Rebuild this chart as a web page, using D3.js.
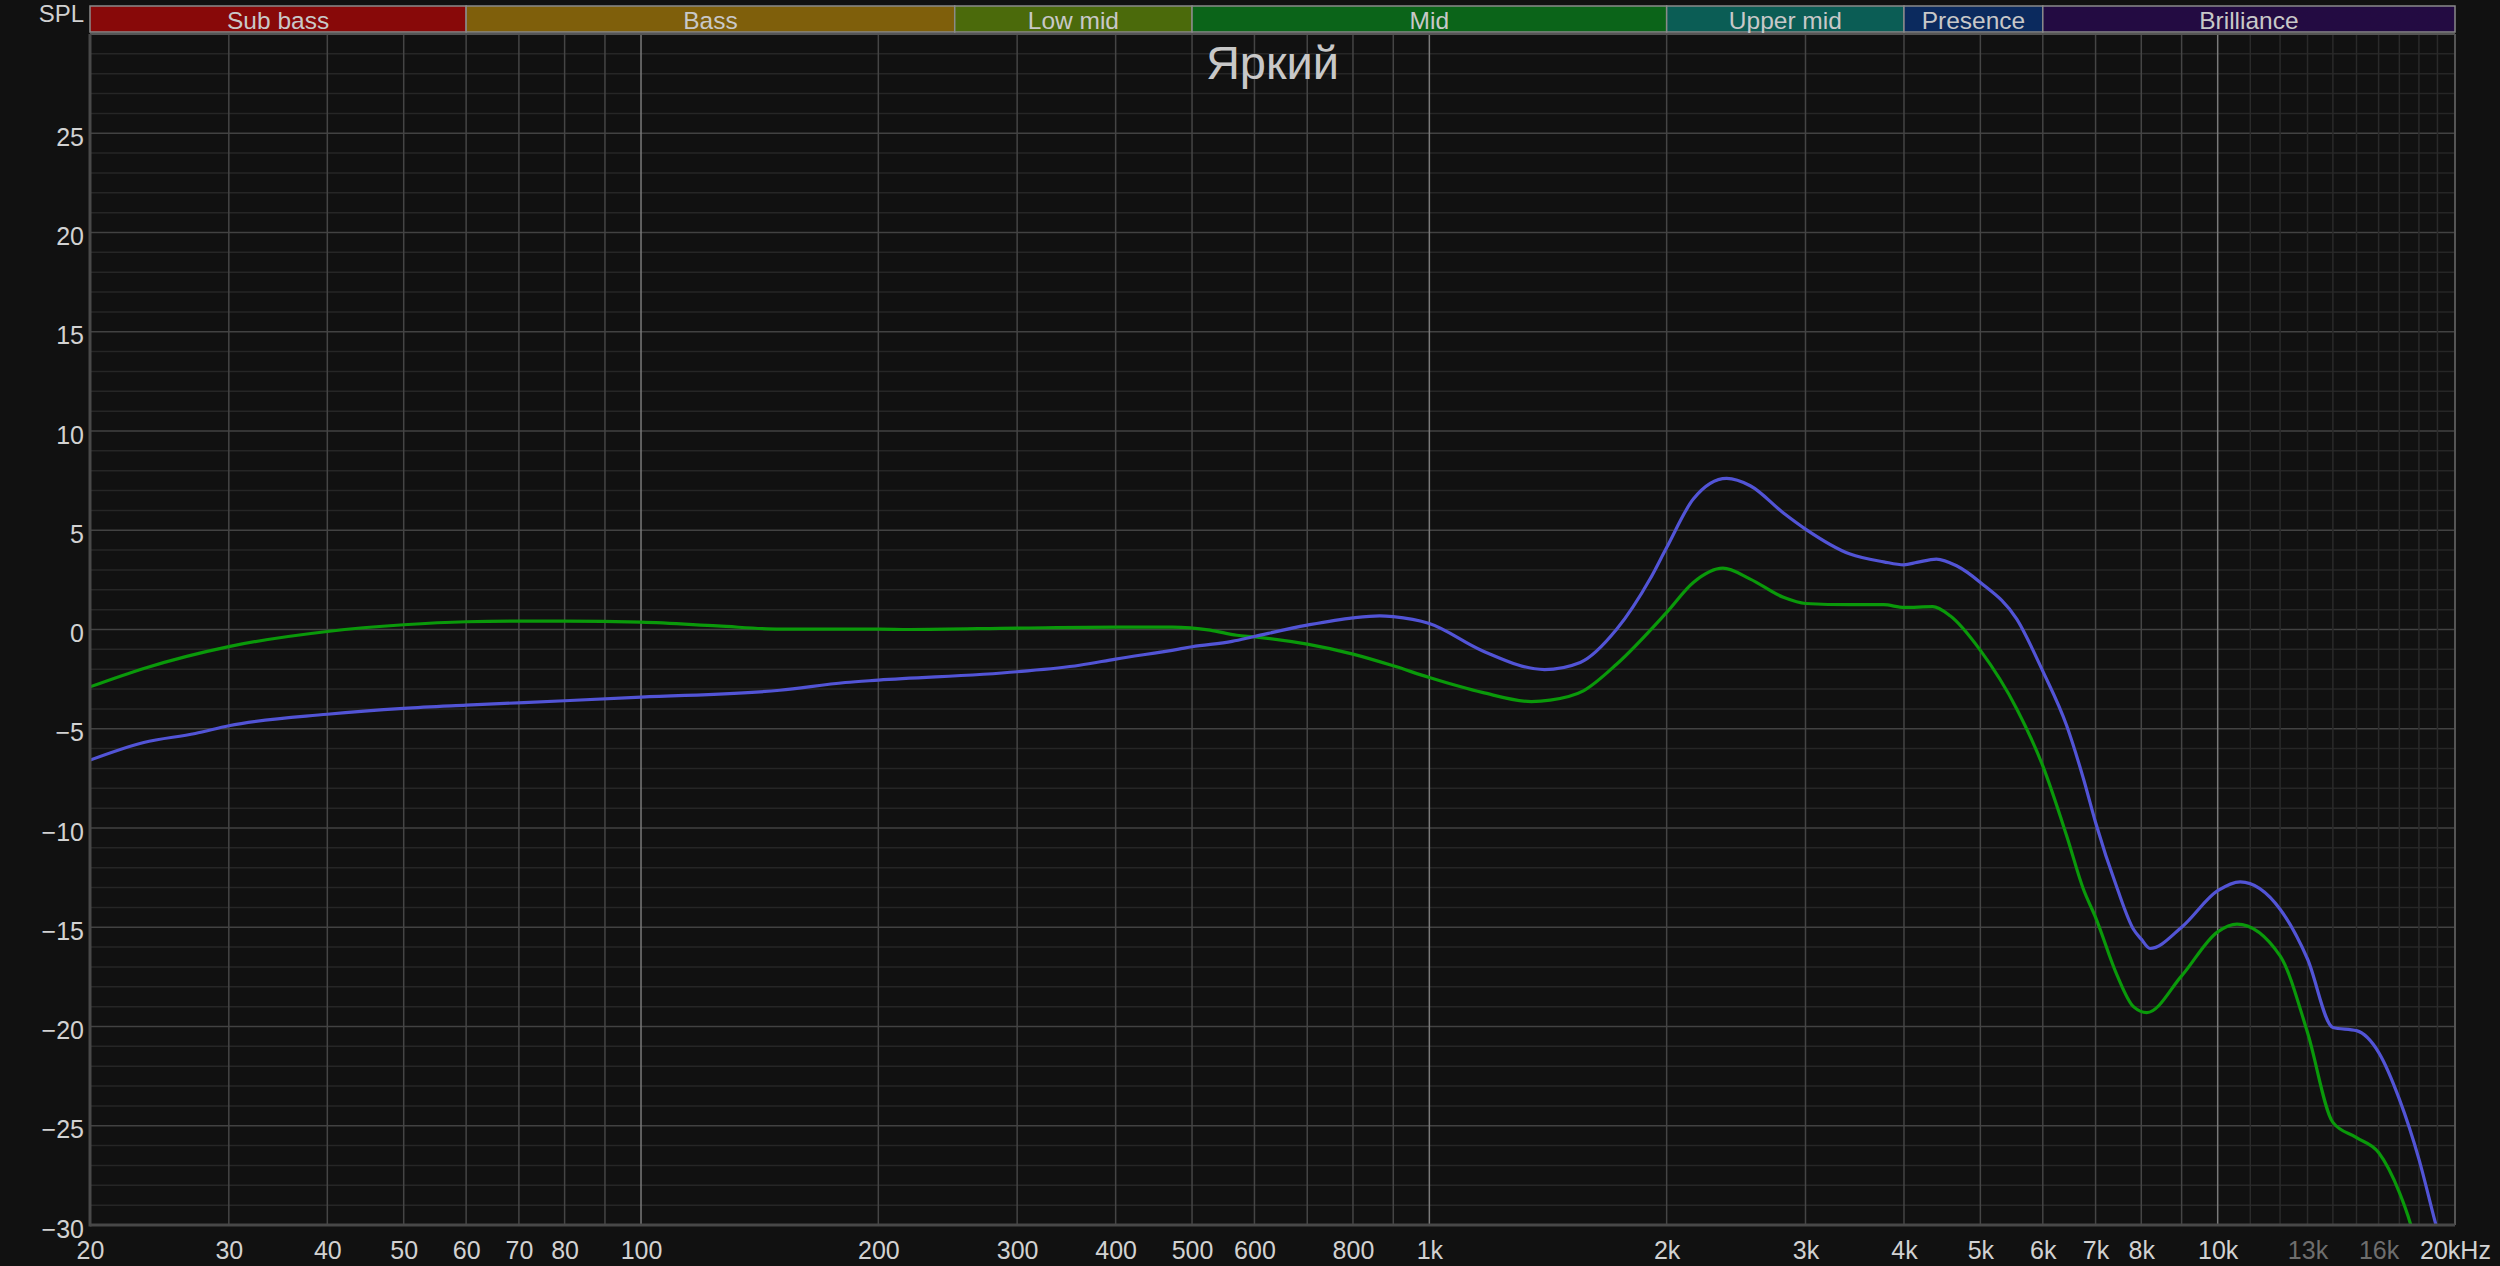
<!DOCTYPE html>
<html>
<head>
<meta charset="utf-8">
<script src="https://cdn.jsdelivr.net/npm/d3@7"></script>
<style>
  html, body { margin: 0; padding: 0; background: #111111; }
  svg { display: block; }
  text { font-family: "Liberation Sans", Arial, sans-serif; }
</style>
</head>
<body>
<svg id="chart" width="2500" height="1266"></svg>
<script>
// ---------------- data ----------------
const title = "Яркий";

const bandNames  = ["Sub bass", "Bass", "Low mid", "Mid", "Upper mid", "Presence", "Brilliance"];
const bandStarts = [20, 60, 250, 500, 2000, 4000, 6000];
const bandEnds   = [60, 250, 500, 2000, 4000, 6000, 20000];
const bandColors = ["#880909", "#7f5f0b", "#4b6a0b", "#0b6419", "#0b5d55", "#0b2a5e", "#230b42"];

const xTickValues = [20, 30, 40, 50, 60, 70, 80, 100, 200, 300, 400, 500, 600, 800,
                     1000, 2000, 3000, 4000, 5000, 6000, 7000, 8000, 10000, 13000, 16000, 20000];
const xTickLabels = ["20", "30", "40", "50", "60", "70", "80", "100", "200", "300", "400", "500", "600", "800",
                     "1k", "2k", "3k", "4k", "5k", "6k", "7k", "8k", "10k", "13k", "16k", "20kHz"];
const xDimLabels  = [13000, 16000];

const yTickValues = [-30, -25, -20, -15, -10, -5, 0, 5, 10, 15, 20, 25];

const greenFreq = [20, 23.4, 30, 40, 50, 60, 70, 80, 100, 125, 150, 200, 219, 300, 400, 472, 527, 570, 600,
                   700, 800, 900, 1000, 1167, 1347, 1423, 1568, 1729, 2000, 2162, 2357, 2553, 2813, 3000,
                   3417, 3770, 4000, 4350, 4577, 5000, 5561, 6000, 6434, 6758, 7000, 7450, 7819, 8131,
                   9000, 10000, 10580, 12000, 13000, 14000, 15000, 16000, 17000, 17540, 18000];
const greenDb   = [-2.89, -1.96, -0.86, -0.10, 0.24, 0.39, 0.42, 0.42, 0.37, 0.18, 0.02, 0.02, 0.0, 0.07, 0.12, 0.12, -0.03, -0.29, -0.37,
                   -0.74, -1.24, -1.83, -2.42, -3.17, -3.63, -3.56, -3.09, -1.74, 0.86, 2.37, 3.09, 2.54, 1.62, 1.31,
                   1.25, 1.25, 1.11, 1.15, 0.69, -1.05, -4.0, -6.87, -10.4, -13.1, -14.5, -17.4, -19.0, -19.3,
                   -17.45, -15.23, -14.84, -16.44, -20.3, -24.83, -25.6, -26.35, -28.36, -29.87, -31.5];

const blueFreq = [20, 23.4, 27.2, 30, 40, 50, 60, 80, 100, 150, 181.6, 200, 300, 360, 400, 481, 500, 562, 600,
                  700, 800, 865, 900, 1000, 1167, 1400, 1554, 1729, 1905, 2000, 2162, 2383, 2553, 2813, 3000,
                  3417, 3770, 4000, 4153, 4397, 4664, 5000, 5561, 6000, 6434, 6758, 7000, 7450, 7819, 8000,
                  8206, 9000, 10000, 10680, 12000, 13000, 14000, 15000, 16000, 17000, 18000, 18880, 20000];
const blueDb   = [-6.58, -5.69, -5.24, -4.85, -4.27, -3.97, -3.81, -3.59, -3.41, -3.06, -2.67, -2.55, -2.13, -1.80, -1.49, -0.99, -0.87, -0.60, -0.35,
                  0.22, 0.59, 0.69, 0.65, 0.30, -1.07, -2.02, -1.66, 0.02, 2.54, 4.13, 6.57, 7.61, 7.24, 5.87, 5.06,
                  3.80, 3.41, 3.26, 3.38, 3.55, 3.21, 2.37, 0.52, -2.1, -4.85, -7.53, -9.72, -13.0, -15.1, -15.6,
                  -16.07, -15.0, -13.16, -12.71, -14.09, -16.6, -20.05, -20.21, -21.3, -23.66, -26.68, -29.87, -33.5];

const greenColor = "#0a990a";
const blueColor  = "#5254d6";

// ---------------- layout ----------------
const L = 90, R = 2455, T = 34, B = 1225;
const svg = d3.select("#chart");

const x = d3.scaleLog().domain([20, 20000]).range([L, R]);
const y = d3.scaleLinear().domain([-30, 30]).range([B, T]);

// ---------------- band bar ----------------
const bandG = svg.append("g");
const bands = bandNames.map((n, i) => ({ name: n, f0: bandStarts[i], f1: bandEnds[i], color: bandColors[i] }));
bandG.selectAll("rect").data(bands).join("rect")
  .attr("x", d => x(d.f0)).attr("y", 6)
  .attr("width", d => x(d.f1) - x(d.f0)).attr("height", 26)
  .attr("fill", d => d.color)
  .attr("stroke", "#8a8a8a").attr("stroke-width", 1.5);
bandG.selectAll("text").data(bands).join("text")
  .attr("x", d => (x(d.f0) + x(d.f1)) / 2).attr("y", 29)
  .attr("text-anchor", "middle")
  .attr("font-size", 24.5)
  .attr("fill", "#c8c8c8")
  .text(d => d.name);

svg.append("text").attr("x", 84).attr("y", 22).attr("text-anchor", "end")
  .attr("font-size", 24).attr("fill", "#d0d0d0").text("SPL");

// ---------------- grid ----------------
const gridG = svg.append("g");
// horizontal lines: every 1 dB, stronger every 5 dB
const hLines = d3.range(-30, 31, 1);
gridG.selectAll("line.h").data(hLines).join("line").attr("class", "h")
  .attr("x1", L).attr("x2", R)
  .attr("y1", d => y(d)).attr("y2", d => y(d))
  .attr("stroke", d => d % 5 === 0 ? "#424242" : "#262626")
  .attr("stroke-width", 1.5);

// vertical lines
const vMajor = [];
[10, 100, 1000].forEach(dec => { for (let k = 2; k <= 10; k++) { const f = k * dec; if (f > 20 && f <= 10000) vMajor.push(f); } });
const vMinor = d3.range(11000, 20000, 1000);
const decades = [100, 1000, 10000];
gridG.selectAll("line.vmin").data(vMinor).join("line").attr("class", "vmin")
  .attr("x1", d => x(d)).attr("x2", d => x(d)).attr("y1", T).attr("y2", B)
  .attr("stroke", "#2a2a2a").attr("stroke-width", 1.5);
gridG.selectAll("line.vmaj").data(vMajor).join("line").attr("class", "vmaj")
  .attr("x1", d => x(d)).attr("x2", d => x(d)).attr("y1", T).attr("y2", B)
  .attr("stroke", d => decades.includes(d) ? "#7a7a7a" : "#454545").attr("stroke-width", 1.5);

// frame
svg.append("line").attr("x1", L).attr("x2", R).attr("y1", T).attr("y2", T).attr("stroke", "#555").attr("stroke-width", 2);
svg.append("line").attr("x1", R).attr("x2", R).attr("y1", T).attr("y2", B).attr("stroke", "#555").attr("stroke-width", 2);

// ---------------- curves ----------------
svg.append("clipPath").attr("id", "plotclip").append("rect")
  .attr("x", L).attr("y", T).attr("width", R - L).attr("height", B - T);

const line = d3.line().x(d => x(d[0])).y(d => y(d[1])).curve(d3.curveMonotoneX);
const curveG = svg.append("g").attr("clip-path", "url(#plotclip)");
curveG.append("path").datum(greenFreq.map((f, i) => [f, greenDb[i]]))
  .attr("d", line).attr("fill", "none").attr("stroke", greenColor).attr("stroke-width", 3.2)
  .attr("stroke-linejoin", "round");
curveG.append("path").datum(blueFreq.map((f, i) => [f, blueDb[i]]))
  .attr("d", line).attr("fill", "none").attr("stroke", blueColor).attr("stroke-width", 3.2)
  .attr("stroke-linejoin", "round");

// left/bottom frame on top
svg.append("line").attr("x1", L).attr("x2", L).attr("y1", T).attr("y2", B + 1.5).attr("stroke", "#484848").attr("stroke-width", 3);
svg.append("line").attr("x1", L).attr("x2", R).attr("y1", B).attr("y2", B).attr("stroke", "#484848").attr("stroke-width", 3);

// ---------------- axes ----------------
const xAxis = d3.axisBottom(x).tickValues(xTickValues)
  .tickFormat((d, i) => xTickLabels[i]).tickSize(0).tickPadding(0);
const xg = svg.append("g").attr("transform", `translate(0,${B})`).call(xAxis);
xg.select(".domain").remove();
xg.selectAll("text").attr("font-size", 25).attr("dy", null).attr("y", 34)
  .attr("fill", d => xDimLabels.includes(d) ? "#6e6e6e" : "#d2d2d2")
  .style("font-family", "'Liberation Sans', Arial, sans-serif");

const yAxis = d3.axisLeft(y).tickValues(yTickValues).tickFormat(d3.format("d")).tickSize(0).tickPadding(0);
const yg = svg.append("g").attr("transform", `translate(84,0)`).call(yAxis);
yg.select(".domain").remove();
yg.selectAll("text").attr("font-size", 25).attr("dy", "0.32em").attr("y", 4)
  .attr("fill", "#d2d2d2")
  .style("font-family", "'Liberation Sans', Arial, sans-serif");

// ---------------- title ----------------
svg.append("text").attr("x", (L + R) / 2).attr("y", 79).attr("text-anchor", "middle")
  .attr("font-size", 47).attr("fill", "#c8c8c8").text(title);
</script>
</body>
</html>
